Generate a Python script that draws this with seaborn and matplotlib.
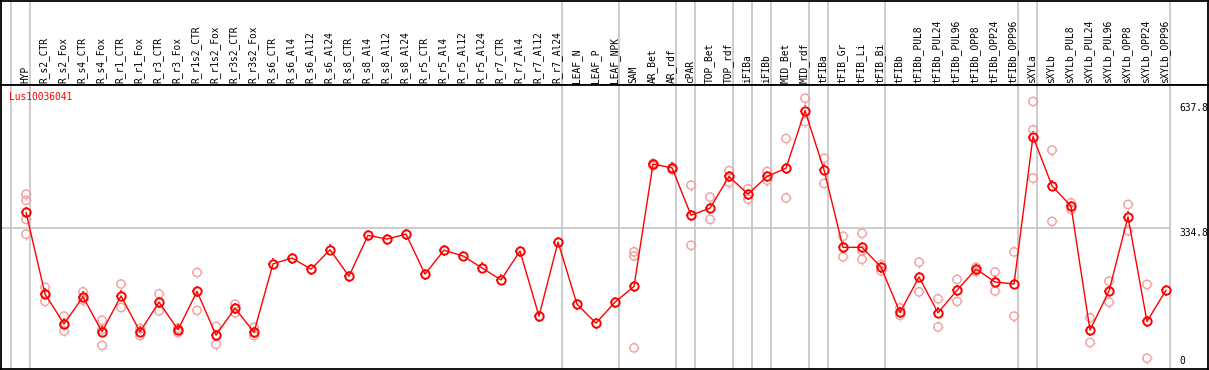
"""Expression profile of one gene across tissue / treatment samples."""
import matplotlib
matplotlib.use("Agg")
import matplotlib.pyplot as plt
import numpy as np
import pandas as pd
import seaborn as sns
from matplotlib.path import Path

gene = "Lus10036041"

samples = [
    "HYP", "R_s2_CTR", "R_s2_Fox", "R_s4_CTR", "R_s4_Fox", "R_r1_CTR", "R_r1_Fox",
    "R_r3_CTR", "R_r3_Fox", "R_r1s2_CTR", "R_r1s2_Fox", "R_r3s2_CTR", "R_r3s2_Fox",
    "R_s6_CTR", "R_s6_Al4", "R_s6_Al12", "R_s6_Al24", "R_s8_CTR", "R_s8_Al4",
    "R_s8_Al12", "R_s8_Al24", "R_r5_CTR", "R_r5_Al4", "R_r5_Al12", "R_r5_Al24",
    "R_r7_CTR", "R_r7_Al4", "R_r7_Al12", "R_r7_Al24", "LEAF_N", "LEAF_P", "LEAF_NPK",
    "SAM", "AR_Bet", "AR_rdf", "cPAR", "TOP_Bet", "TOP_rdf", "iFIBa", "iFIBb",
    "MID_Bet", "MID_rdf", "tFIBa", "tFIB_Gr", "tFIB_Li", "tFIB_Bi", "tFIBb",
    "tFIBb_PUL8", "tFIBb_PUL24", "tFIBb_PUL96", "tFIBb_OPP8", "tFIBb_OPP24",
    "tFIBb_OPP96", "sXYLa", "sXYLb", "sXYLb_PUL8", "sXYLb_PUL24", "sXYLb_PUL96",
    "sXYLb_OPP8", "sXYLb_OPP24", "sXYLb_OPP96",
]

means = [
    373, 175, 102, 168, 83, 170, 83, 155, 88, 181, 75, 140, 82,
    248, 262, 235, 282, 218, 317, 308, 320, 223, 281, 267, 238,
    209, 279, 121, 301, 150, 104, 155,
    193, 490, 481, 366, 383, 460, 417, 460, 480, 620, 476, 288, 288, 240, 130,
    216, 129, 184, 235, 204, 199, 557, 437, 388, 87, 182, 362, 108, 184,
]

replicates = [
    [417, 402, 356, 320], [191, 157, 175], [121, 85, 100], [180, 160, 165],
    [111, 50, 88], [199, 142], [91, 74], [175, 134], [92, 81], [227, 135],
    [96, 53], [150, 129], [94, 74],
    [], [], [], [], [], [], [], [], [], [], [], [], [], [], [], [], [], [], [],
    [277, 267, 44], [492, 486], [482, 476], [439, 293], [410, 356], [474, 446],
    [430, 405], [472, 451], [552, 408], [650, 593], [504, 443], [315, 265],
    [322, 280, 259], [246, 231], [141, 123], [252, 180], [163, 95], [210, 157],
    [240, 229], [228, 182], [277, 121], [642, 573, 456], [524, 351], [396, 380],
    [117, 57], [206, 155], [392, 328], [198, 19], [],
]

# sample index after which a grey separator is drawn
group_breaks = [-1, 0, 28, 31, 34, 35, 37, 38, 39, 41, 42, 45, 52, 53, 60]
scale_labels = ["637.8", "334.8", "0"]
scale_values = [637.8, 334.8, 0.0]

sns.set_style("white")
plt.rcParams["font.family"] = ["DejaVu Sans Mono"]

RED = "#ff0000"
PINK = "#f2a0a0"
GREY = "#c4c4c4"
FS = 6.9


def tick_marker():
    # four short ticks just outside the circle, like the original viewer's glyph
    parts = []
    for dx, dy in [(1, 0), (-1, 0), (0, 1), (0, -1)]:
        parts.append(Path([(dx, dy), (1.3 * dx, 1.3 * dy)], [Path.MOVETO, Path.LINETO]))
    return Path.make_compound_path(*parts)


ticks = tick_marker()
pos = np.arange(len(samples))
df_mean = pd.DataFrame({"pos": pos, "expr": means})
df_rep = pd.DataFrame([(i, v) for i, vals in enumerate(replicates) for v in vals],
                      columns=["pos", "expr"])

W, H = 1209, 370
fig = plt.figure(figsize=(W / 100, H / 100), dpi=100)
xlim = ((0.5 - 26) / 19, (1208 - 26) / 19)
ax_top = fig.add_axes([0.5 / W, (H - 85) / H, 1207.5 / W, 84.5 / H])
ax = fig.add_axes([0.5 / W, 1 / H, 1207.5 / W, 284 / H])

for a in (ax_top, ax):
    a.set_xlim(*xlim)
    a.set_xticks([]); a.set_yticks([])
    for sp in a.spines.values():
        sp.set_color("black"); sp.set_linewidth(1.3)
    for b in group_breaks:
        a.axvline(b + 0.23, color=GREY, lw=1.2, zorder=1)

# sample labels in the header strip
ax_top.set_ylim(85, 0)
for i, name in enumerate(samples):
    ax_top.text(i - 0.05, 83, name, rotation=90, ha="center", va="bottom",
                fontsize=FS, color="black")

# profile
ax.set_ylim(-7.3, 682)
ax.hlines(334.8, xlim[0], 60.23, color=GREY, lw=1.2, zorder=1)
for mk, size in (("o", 36), (ticks, 62)):
    sns.scatterplot(data=df_rep, x="pos", y="expr", ax=ax, marker=mk, s=size,
                    facecolor="none", edgecolor=PINK, linewidth=1.0, zorder=3,
                    legend=False)
sns.lineplot(data=df_mean, x="pos", y="expr", ax=ax, color=RED, lw=1.0,
             marker="o", ms=6.0, mfc="none", mec=RED, mew=1.4, zorder=4)
sns.scatterplot(data=df_mean, x="pos", y="expr", ax=ax, marker=ticks, s=62,
                facecolor="none", edgecolor=RED, linewidth=1.1, zorder=5, legend=False)
ax.set_xlabel(""); ax.set_ylabel("")
ax.set_xticks([]); ax.set_yticks([])

for lab, v in zip(scale_labels, scale_values):
    ax.text(60.68, v, lab, ha="left", va="bottom" if v == 0 else "top",
            fontsize=FS, color="black")

fig.text(9.5 / W, 1 - 92 / H, gene, ha="left", va="top", fontsize=FS, color=RED)

fig.savefig("out.png", dpi=100)
